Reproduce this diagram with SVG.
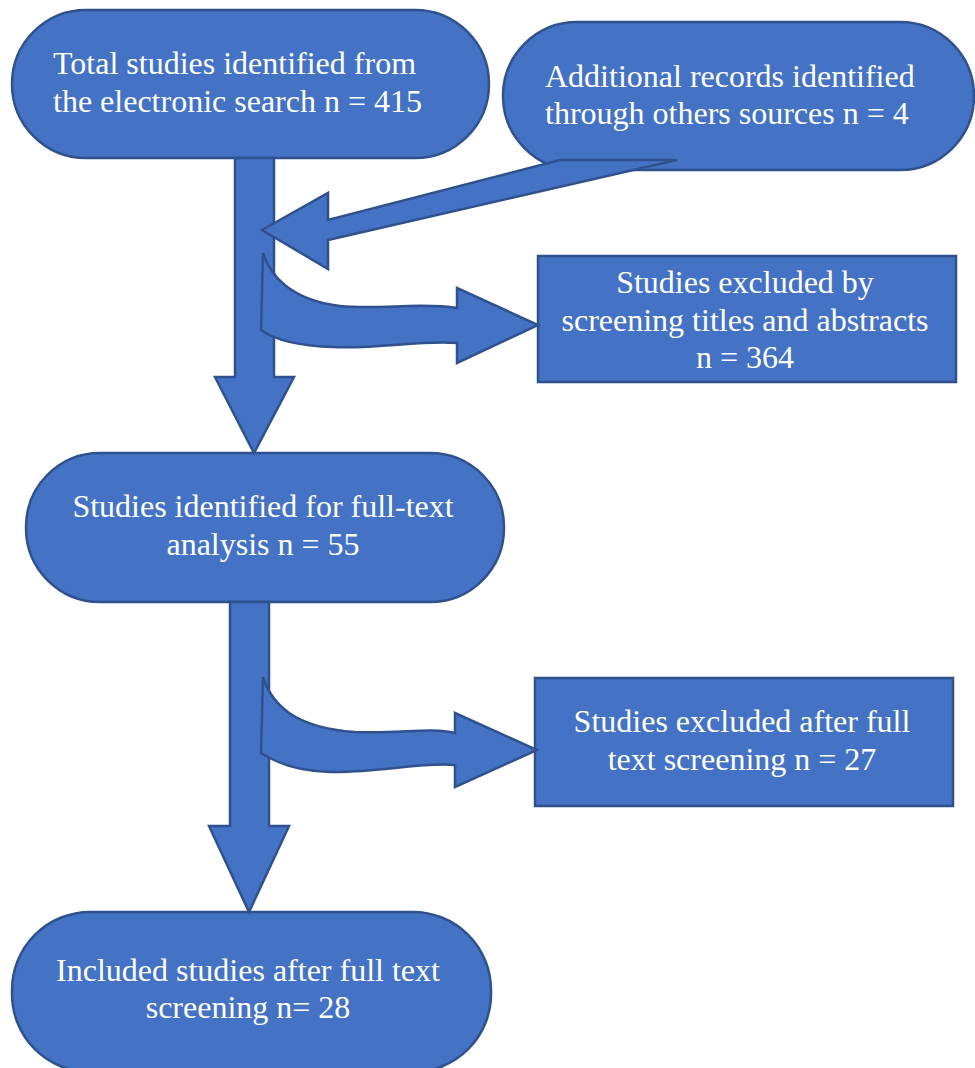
<svg xmlns="http://www.w3.org/2000/svg" width="975" height="1068" viewBox="0 0 975 1068">
<style>
.n{fill:#4472C4;stroke:#2F528F;stroke-width:2.5}
.a{fill:#4472C4;stroke:#2F528F;stroke-width:2.5;stroke-linejoin:miter}
.t{font-family:"Liberation Serif","Times New Roman",serif;font-size:32px;fill:#FFFFFF}
.c{text-anchor:middle}
</style>
<rect width="975" height="1068" fill="#FFFFFF"/>
<g id="node-total">
<rect class="n" x="12" y="10" width="477" height="148" rx="74" ry="74"/>
<text class="t" x="53" y="74">Total studies identified from</text>
<text class="t" x="53" y="112">the electronic search n = 415</text>
</g>
<g id="node-additional">
<rect class="n" x="503" y="22" width="471" height="148" rx="74" ry="74"/>
<text class="t" x="545" y="87">Additional records identified</text>
<text class="t" x="545" y="124">through others sources n = 4</text>
</g>
<g id="node-excluded-screening">
<rect class="n" x="538" y="256" width="418" height="126"/>
<text class="t c" x="745" y="293">Studies excluded by</text>
<text class="t c" x="745" y="331">screening titles and abstracts</text>
<text class="t c" x="745" y="368">n = 364</text>
</g>
<g id="node-fulltext">
<rect class="n" x="26" y="453" width="478" height="149" rx="74" ry="74"/>
<text class="t c" x="263" y="517">Studies identified for full-text</text>
<text class="t c" x="263" y="555">analysis n = 55</text>
</g>
<g id="node-excluded-fulltext">
<rect class="n" x="535" y="678" width="418" height="128"/>
<text class="t c" x="742" y="732">Studies excluded after full</text>
<text class="t c" x="742" y="770">text screening n = 27</text>
</g>
<g id="node-included">
<rect class="n" x="12" y="912" width="479" height="160" rx="78" ry="78"/>
<text class="t c" x="248" y="981">Included studies after full text</text>
<text class="t c" x="248" y="1018">screening n= 28</text>
</g>
<g id="connectors">
<polygon class="a" points="235,158 274,158 274,377 294,377 254,453 215,377 235,377"/>
<polygon class="a" points="230,602 269,602 269,826 289,826 249,912 209,826 230,826"/>
<polygon class="a" points="262,230 328,193 328,220 560,160 677,160 328,240 328,269"/>
<path class="a" d="M263,253 C270,275 290,300 340,306 C380,310 420,302 457,308 L457,288 L538,325 L457,363 L457,343 C420,340 380,349 333,347 C300,346 275,340 261,330 Z"/>
<path class="a" d="M263,677 C272,705 295,728 355,732 C400,734 430,727 455,733 L455,713 L537,750 L455,787 L455,765 C420,762 380,773 330,772 C295,771 275,762 261,753 Z"/>
</g>
</svg>
